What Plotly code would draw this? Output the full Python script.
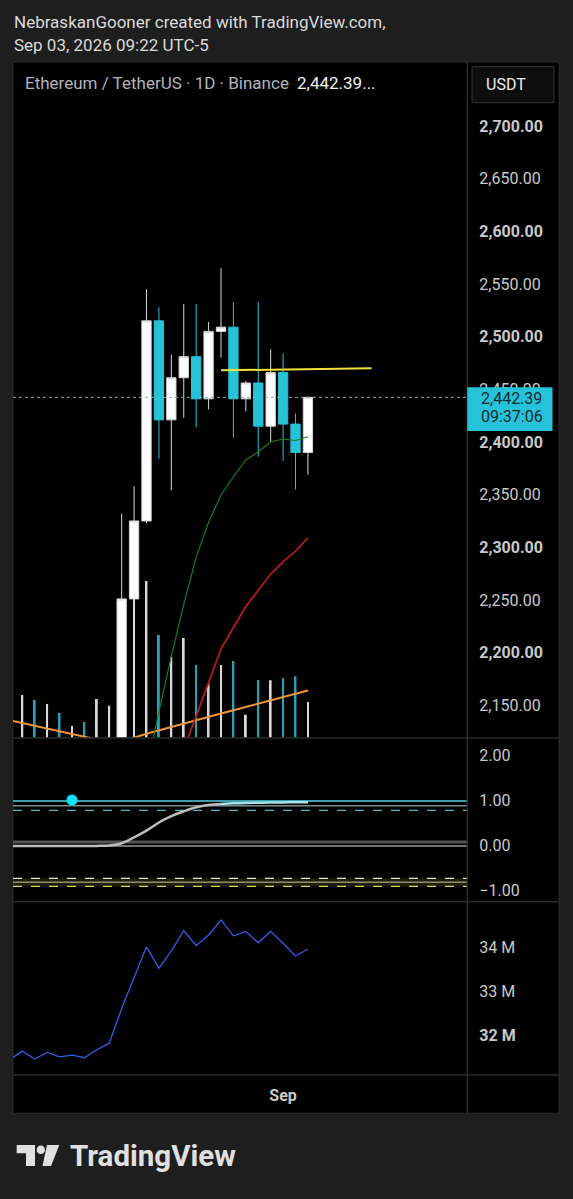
import pandas as pd
import plotly.graph_objects as go

W, H = 573, 1199

# daily bars, Aug 10 .. Sep 3 2026 (first bar sits just left of the visible area)
dates = pd.date_range("2026-08-10", "2026-09-03", freq="D")

open_ = [2040, 2015, 2045, 2020, 2050, 2032, 2044, 2035, 2070, 2095, 2251, 2325, 2515,
         2421, 2461, 2481, 2441, 2505, 2509, 2441, 2456, 2415, 2466, 2417, 2390]
high = [2055, 2060, 2055, 2062, 2058, 2052, 2050, 2085, 2110, 2332, 2358, 2545, 2528,
        2483, 2531, 2531, 2514, 2565, 2533, 2458, 2533, 2488, 2484, 2427, 2443]
low = [2005, 2005, 2010, 2012, 2025, 2026, 2028, 2030, 2062, 2088, 2240, 2323, 2384,
       2354, 2423, 2414, 2431, 2480, 2404, 2429, 2386, 2400, 2382, 2355, 2369]
close = [2015, 2045, 2020, 2050, 2032, 2044, 2035, 2070, 2095, 2251, 2325, 2515, 2421,
         2461, 2481, 2441, 2505, 2509, 2441, 2456, 2415, 2466, 2417, 2390, 2442.39]
volume = [120, 128, 113, 101, 74, 35, 47, 116, 96, 390, 450, 470, 308,
          242, 299, 218, 162, 218, 230, 69, 173, 172, 179, 184, 107]

ema_fast = [2010, 2012, 2014, 2016, 2017, 2019, 2020, 2024, 2030, 2042, 2058, 2089, 2143.7,
            2196.8, 2245.7, 2290.5, 2323.8, 2349.7, 2367, 2382.9, 2390.8, 2400, 2402.8, 2401.4, 2405]
ema_slow = [1990, 1992, 1994, 1996, 1998, 2000, 2002, 2006, 2012, 2020, 2028, 2038, 2055,
            2079, 2108, 2139.7, 2171.7, 2203.5, 2223.9, 2243.7, 2259.2, 2274.6, 2286.3, 2296.3, 2308.9]
ma_long = [2135.8, 2133.3, 2130.7, 2128.0, 2125.4, 2122.8, 2120.2, 2117.5, 2116, 2116.5, 2119.3,
           2123, 2126.3, 2129.6, 2132.8, 2136, 2139.2, 2142.3, 2145.4, 2148.5, 2151.5, 2154.5,
           2157.4, 2160.5, 2164]

osc = [-0.02, -0.02, -0.02, -0.02, -0.02, -0.02, -0.02, -0.02, -0.01, 0.04, 0.17, 0.32, 0.5,
       0.64, 0.75, 0.84, 0.89, 0.91, 0.925, 0.935, 0.94, 0.945, 0.947, 0.95, 0.95]
osc_levels = [0.98, 0.87, 0.77, 0.067, -0.02, -0.74, -0.83, -0.92]

cvd = [31.46, 31.65, 31.47, 31.62, 31.52, 31.56, 31.50, 31.68, 31.83, 32.62, 33.32, 34.02, 33.53,
       33.93, 34.39, 34.05, 34.29, 34.63, 34.27, 34.37, 34.11, 34.37, 34.10, 33.81, 33.97]

trend_x = ["2026-08-27", "2026-09-08 03:00"]
trend_y = [2468, 2470]
signal_x = ["2026-08-15"]
signal_y = [1.0]

last_price = 2442.39
price_ticks = [2150, 2200, 2250, 2300, 2350, 2400, 2450, 2500, 2550, 2600, 2650, 2700]
osc_ticks = [-1, 0, 1, 2]
cvd_ticks = [32, 33, 34]


def px(x):
    return x / W


def py(y):
    return 1 - y / H


UP = "#ffffff"
DOWN = "#26c2d8"
TXT = "#c9c9c9"
SEP = "#2b2b2b"
FONT = "Roboto"

x_range = ["2026-08-10 06:00", "2026-09-15 20:00"]
xdom = [px(13), px(467.3)]
main_dom = [py(737.7), py(62)]
osc_dom = [py(901.7), py(738.3)]
cvd_dom = [py(1075), py(901.7)]

fig = go.Figure()

vol_colors = ["#d9d9d9" if c >= o else "#2a9fb8" for o, c in zip(open_, close)]
fig.add_trace(go.Bar(x=dates, y=volume, width=0.15 * 86400000, marker_color=vol_colors,
                     marker_line_width=0, xaxis="x", yaxis="y"))

fig.add_trace(go.Scatter(x=dates, y=ma_long, mode="lines", line=dict(color="#f0953a", width=2),
                         xaxis="x", yaxis="y4"))
fig.add_trace(go.Scatter(x=dates, y=ema_slow, mode="lines", line=dict(color="#b01c1c", width=1.8),
                         xaxis="x", yaxis="y4"))
fig.add_trace(go.Scatter(x=dates, y=ema_fast, mode="lines", line=dict(color="#1f7a1f", width=1.2),
                         xaxis="x", yaxis="y4"))

fig.add_trace(go.Candlestick(
    x=dates, open=open_, high=high, low=low, close=close,
    increasing=dict(line=dict(color="#d6d6d6", width=1), fillcolor=UP),
    decreasing=dict(line=dict(color=DOWN, width=1), fillcolor=DOWN),
    whiskerwidth=0, xaxis="x", yaxis="y4"))

fig.add_trace(go.Scatter(x=trend_x, y=trend_y, mode="lines", line=dict(color="#f2e23a", width=2),
                         xaxis="x", yaxis="y4"))

# oscillator pane
fig.add_trace(go.Scatter(x=dates[:18], y=osc[:18], mode="lines", line=dict(color="#bdbdbd", width=2.5, shape="spline"),
                         xaxis="x2", yaxis="y2"))
fig.add_trace(go.Scatter(x=dates[17:], y=osc[17:], mode="lines", line=dict(color="#a6e3ec", width=2.5, shape="spline"),
                         xaxis="x2", yaxis="y2"))
fig.add_trace(go.Scatter(x=signal_x, y=signal_y, mode="markers", marker=dict(color="#00e5ff", size=11),
                         xaxis="x2", yaxis="y2"))

# cvd pane
fig.add_trace(go.Scatter(x=dates, y=cvd, mode="lines", line=dict(color="#2f5fe6", width=1.3),
                         xaxis="x3", yaxis="y3"))

level_styles = [("#4fd3e3", "solid", 1.5), ("#7a8a8c", "solid", 1.5), ("#4fb8c8", "dash", 1.2),
                ("#555555", "solid", 3), ("#9a9a9a", "solid", 1.5), ("#e6e6c8", "dash", 1.2),
                ("#8f8f70", "solid", 1.5), ("#d8d840", "dash", 1.2)]

shapes = [
    dict(type="rect", xref="paper", yref="paper", x0=px(13), x1=px(559), y0=py(1113.3), y1=py(62),
         fillcolor="#000000", line=dict(color=SEP, width=1), layer="below"),
    dict(type="rect", xref="paper", yref="y2", x0=xdom[0], x1=xdom[1], y0=-0.74, y1=-0.92,
         fillcolor="rgba(130,130,20,0.22)", line_width=0, layer="below"),
    dict(type="line", xref="paper", yref="y4", x0=xdom[0], x1=xdom[1], y0=last_price, y1=last_price,
         line=dict(color="#6db6c2", width=1, dash="dot")),
]
for v, (c, d, w) in zip(osc_levels, level_styles):
    shapes.append(dict(type="line", xref="paper", yref="y2", x0=xdom[0], x1=xdom[1], y0=v, y1=v,
                       line=dict(color=c, width=w, dash=d), layer="below"))
for yy in [738, 901.7, 1075]:
    shapes.append(dict(type="line", xref="paper", yref="paper", x0=px(13), x1=px(559), y0=py(yy), y1=py(yy),
                       line=dict(color=SEP, width=1.5)))
shapes.append(dict(type="line", xref="paper", yref="paper", x0=px(467.3), x1=px(467.3), y0=py(62), y1=py(1113.3),
                   line=dict(color=SEP, width=1.5)))
# USDT box
shapes.append(dict(type="rect", xref="paper", yref="paper", x0=px(472), x1=px(554), y0=py(102.7), y1=py(66.7),
                   fillcolor="#0e0e0e", line=dict(color="#333333", width=1)))
# last price label
shapes.append(dict(type="rect", xref="paper", yref="paper", x0=px(467.3), x1=px(552.5), y0=py(431), y1=py(387.3),
                   fillcolor=DOWN, line_width=0, layer="above"))
# TradingView logo mark
logo = "#e0e0e0"
pts = [(16.7, 1145), (35, 1145), (35, 1166), (26, 1166), (26, 1153.3), (16.7, 1153.3)]
shapes.append(dict(type="path", xref="paper", yref="paper", fillcolor=logo, line_width=0,
                   path="M " + " L ".join(f"{px(a)},{py(b)}" for a, b in pts) + " Z"))
pts = [(47, 1145), (59.3, 1145), (51, 1166), (42.5, 1166)]
shapes.append(dict(type="path", xref="paper", yref="paper", fillcolor=logo, line_width=0,
                   path="M " + " L ".join(f"{px(a)},{py(b)}" for a, b in pts) + " Z"))
shapes.append(dict(type="circle", xref="paper", yref="paper", fillcolor=logo, line_width=0,
                   x0=px(36.6), x1=px(45), y0=py(1154), y1=py(1145.5)))

annotations = [
    dict(x=px(12), y=py(22.3), text="NebraskanGooner created with TradingView.com,",
         font=dict(size=17, color="#dadada")),
    dict(x=px(12), y=py(45), text="Sep 03, 2026 09:22 UTC-5", font=dict(size=17, color="#dadada")),
    dict(x=px(23), y=py(82.7), text="Ethereum / TetherUS · 1D · Binance", font=dict(size=17, color="#b2b5be")),
    dict(x=px(295), y=py(82.7), text="2,442.39...", font=dict(size=17, color="#f2f2f2")),
    dict(x=px(484), y=py(85), text="USDT", font=dict(size=16, color="#ececec")),
    dict(x=px(478.5), y=py(398.3), text=f"{last_price:,.2f}", font=dict(size=16, color="#0c2a30")),
    dict(x=px(478.5), y=py(417), text="09:37:06", font=dict(size=16, color="#0c2a30")),
    dict(x=px(67.5), y=py(1156), text="TradingView", font=dict(size=29.5, color=logo, weight="bold")),
]
for a in annotations:
    a.update(xref="paper", yref="paper", xanchor="left", yanchor="middle", showarrow=False)

hidden_x = dict(domain=xdom, range=x_range, type="date", showgrid=False, zeroline=False,
                showticklabels=False, showline=False, ticks="")
fig.update_layout(
    width=W, height=H, margin=dict(l=0, r=0, t=0, b=0),
    paper_bgcolor="#1e1e1e", plot_bgcolor="#000000",
    font=dict(family=FONT, color=TXT),
    showlegend=False, boxgap=0.25, boxgroupgap=0,
    xaxis=dict(hidden_x, anchor="y", rangeslider=dict(visible=False)),
    xaxis2=dict(hidden_x, anchor="y2", matches="x"),
    xaxis3=dict(hidden_x, anchor="y3", matches="x", showticklabels=True,
                tickvals=["2026-09-01"], ticktext=["<b>Sep</b>"], tickfont=dict(size=16, color=TXT),
                ticklabelstandoff=9),
    yaxis=dict(domain=main_dom, range=[0, 2027], visible=False, anchor="x"),
    yaxis4=dict(overlaying="y", side="right", anchor="x", range=[2119.25, 2760.76], showgrid=False,
                zeroline=False, tickvals=price_ticks,
                ticktext=[(f"<b>{v:,.2f}</b>" if v % 100 == 0 else f"{v:,.2f}") for v in price_ticks],
                tickfont=dict(size=16, color=TXT), ticks="", ticklabelstandoff=11),
    yaxis2=dict(domain=osc_dom, range=[-1.26, 2.371], side="right", anchor="x2", showgrid=False,
                zeroline=False, tickvals=osc_ticks,
                ticktext=[f"{v:.2f}".replace("-", "\u2212") for v in osc_ticks],
                tickfont=dict(size=16, color=TXT), ticks="", ticklabelstandoff=11),
    yaxis3=dict(domain=cvd_dom, range=[31.107, 35.045], side="right", anchor="x3", showgrid=False,
                zeroline=False, tickvals=cvd_ticks,
                ticktext=[(f"<b>{v} M</b>" if v == 32 else f"{v} M") for v in cvd_ticks],
                tickfont=dict(size=16, color=TXT), ticks="", ticklabelstandoff=11),
    shapes=shapes, annotations=annotations,
)

# page body keeps a default 8px margin; remove it so the figure fills the window
fig.write_html("out.html", config={"displayModeBar": False},
               post_script="document.body.style.margin='0';document.body.style.background='#1e1e1e';")
